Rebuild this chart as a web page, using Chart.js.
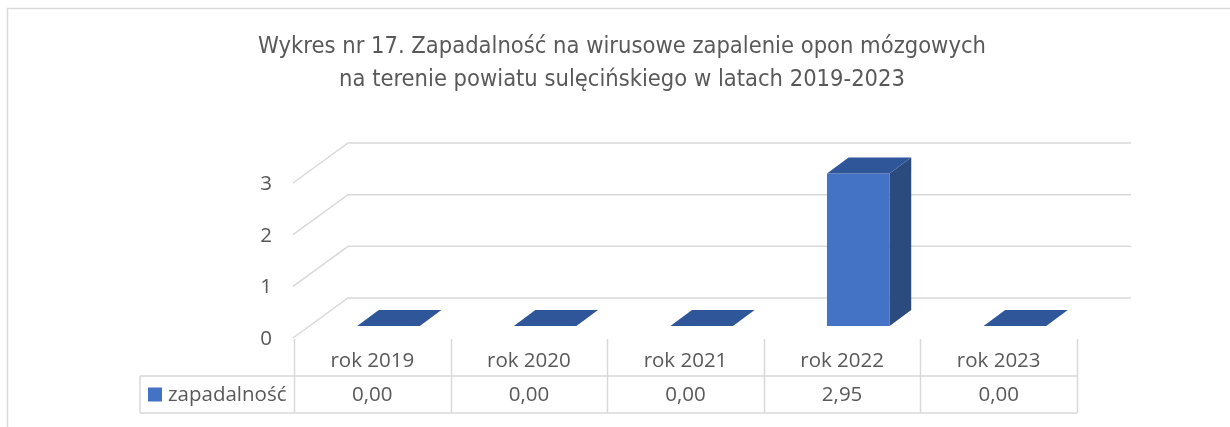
<!DOCTYPE html>
<html>
<head>
<meta charset="utf-8">
<script src="https://cdn.jsdelivr.net/npm/chart.js@4/dist/chart.umd.min.js"></script>
<style>
  html, body { margin: 0; padding: 0; background: #fff; }
  canvas { display: block; }
</style>
</head>
<body>
<canvas id="wykres" width="1230" height="427"></canvas>
<script>
// dane
var categories = ["rok 2019", "rok 2020", "rok 2021", "rok 2022", "rok 2023"];
var zapadalnosc = [0, 0, 0, 2.95, 0];
var seriesName = "zapadalność";
var yTicks = [0, 1, 2, 3];
var titleLines = [
    "Wykres nr 17. Zapadalność na wirusowe zapalenie opon mózgowych",
    "na terenie powiatu sulęcińskiego w latach 2019-2023"
];

var textColor = "#595959";
var lineColor = "#d9d9d9";
var tableFont = "20.5px 'Open Sans', sans-serif";
var depth = { dx: 54, dy: -40 };   // glebokosc sceny 3D
var barFront = 0.3, barBack = 0.7; // polozenie slupka w glebi

function fmt(v) {
    return v.toFixed(2).replace(".", ",");
}

var scene3d = {
    id: "scene3d",
    beforeDraw: function (chart) {
        var ctx = chart.ctx;
        var a = chart.chartArea;
        var y = chart.scales.y;
        ctx.save();
        // ramka wykresu
        ctx.strokeStyle = lineColor;
        ctx.lineWidth = 1.5;
        ctx.beginPath();
        ctx.moveTo(7.5, 427);
        ctx.lineTo(7.5, 8.5);
        ctx.lineTo(1230, 8.5);
        ctx.stroke();

        // tytul
        ctx.fillStyle = textColor;
        ctx.font = "23.5px 'Liberation Sans Narrow', 'DejaVu Sans Condensed', Roboto, sans-serif";
        ctx.textAlign = "center";
        ctx.textBaseline = "middle";
        ctx.fillText(titleLines[0], 622, 47);
        ctx.fillText(titleLines[1], 622, 80);

        // siatka na tylnej scianie i linie boczne
        ctx.strokeStyle = lineColor;
        ctx.lineWidth = 1.5;
        yTicks.forEach(function (t) {
            var py = y.getPixelForValue(t);
            ctx.beginPath();
            ctx.moveTo(a.left - 1, py);
            ctx.lineTo(a.left + depth.dx, py + depth.dy);
            ctx.lineTo(a.right + depth.dx, py + depth.dy);
            ctx.stroke();
        });

        // etykiety osi Y
        ctx.font = tableFont;
        ctx.textAlign = "right";
        yTicks.forEach(function (t) {
            ctx.fillText(String(t), a.left - 22, y.getPixelForValue(t) + 1);
        });
        ctx.restore();
    },
    beforeDatasetsDraw: function (chart) {
        chart.ctx.save();
        chart.ctx.translate(depth.dx * barFront, depth.dy * barFront);
    },
    afterDatasetsDraw: function (chart) {
        var ctx = chart.ctx;
        ctx.restore();
        var meta = chart.getDatasetMeta(0);
        var ox = depth.dx * barFront, oy = depth.dy * barFront;
        var bx = depth.dx * (barBack - barFront), by = depth.dy * (barBack - barFront);
        ctx.save();
        meta.data.forEach(function (bar) {
            var p = bar.getProps(["x", "y", "base", "width"], true);
            var x1 = p.x - p.width / 2 + ox, x2 = p.x + p.width / 2 + ox;
            var top = p.y + oy, base = p.base + oy;
            // bok
            if (base - top > 0.5) {
                ctx.fillStyle = "#2b4a7e";
                ctx.beginPath();
                ctx.moveTo(x2, top);
                ctx.lineTo(x2, base);
                ctx.lineTo(x2 + bx, base + by);
                ctx.lineTo(x2 + bx, top + by);
                ctx.closePath();
                ctx.fill();
            }
            // gora
            ctx.fillStyle = "#30569a";
            ctx.beginPath();
            ctx.moveTo(x1, top);
            ctx.lineTo(x2, top);
            ctx.lineTo(x2 + bx, top + by);
            ctx.lineTo(x1 + bx, top + by);
            ctx.closePath();
            ctx.fill();
        });
        ctx.restore();
    },
    afterDraw: function (chart) {
        var ctx = chart.ctx;
        var a = chart.chartArea;
        var x = chart.scales.x;
        var colW = (a.right - a.left) / categories.length;
        var rowTop = a.bottom + 1, rowMid = a.bottom + 38, rowBot = a.bottom + 75;
        var left = 140;
        ctx.save();
        ctx.strokeStyle = lineColor;
        ctx.lineWidth = 1.5;
        ctx.beginPath();
        ctx.moveTo(left, rowMid); ctx.lineTo(a.right, rowMid);
        ctx.moveTo(left, rowBot); ctx.lineTo(a.right, rowBot);
        ctx.moveTo(left, rowMid); ctx.lineTo(left, rowBot);
        for (var i = 0; i <= categories.length; i++) {
            var vx = Math.round(a.left + i * colW) + 0.5;
            ctx.moveTo(vx, rowTop);
            ctx.lineTo(vx, rowBot);
        }
        ctx.stroke();

        ctx.fillStyle = textColor;
        ctx.font = tableFont;
        ctx.textAlign = "center";
        ctx.textBaseline = "middle";
        categories.forEach(function (c, i) {
            var cx = x.getPixelForValue(i);
            ctx.fillText(c, cx, (rowTop + rowMid) / 2 + 4);
            ctx.fillText(fmt(zapadalnosc[i]), cx, (rowMid + rowBot) / 2 + 1);
        });

        // legenda w tabeli
        ctx.fillStyle = "#4472c4";
        ctx.fillRect(148, (rowMid + rowBot) / 2 - 7, 14, 14);
        ctx.fillStyle = textColor;
        ctx.textAlign = "left";
        ctx.fillText(seriesName, 168, (rowMid + rowBot) / 2 + 1);
        ctx.restore();
    }
};

new Chart(document.getElementById("wykres"), {
    type: "bar",
    data: {
        labels: categories,
        datasets: [{
            label: seriesName,
            data: zapadalnosc,
            backgroundColor: "#4472c4",
            borderWidth: 0,
            barPercentage: 0.4,
            categoryPercentage: 1
        }]
    },
    options: {
        responsive: false,
        animation: false,
        devicePixelRatio: 1,
        layout: { padding: { left: 294, right: 153, top: 183, bottom: 89 } },
        plugins: {
            legend: { display: false },
            title: { display: false },
            tooltip: { enabled: false }
        },
        scales: {
            x: { display: false, offset: true },
            y: { display: false, min: 0, max: 3, ticks: { stepSize: 1 } }
        }
    },
    plugins: [scene3d]
});
</script>
</body>
</html>
